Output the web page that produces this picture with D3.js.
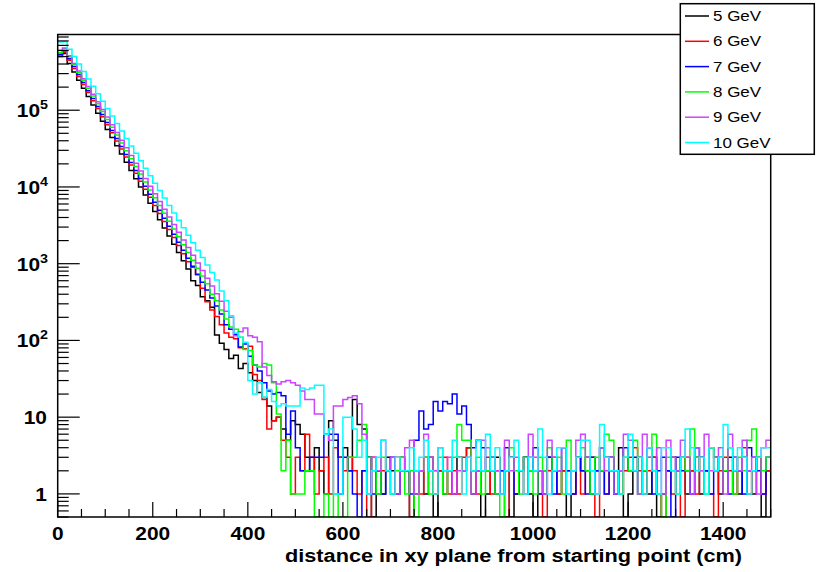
<!DOCTYPE html>
<html><head><meta charset="utf-8">
<script src="https://cdn.jsdelivr.net/npm/d3@7"></script>
<style>
body{margin:0;background:#fff}
svg{display:block}
text{font-family:"Liberation Sans",Arial,Helvetica,sans-serif}
</style>
</head><body>
<svg id="c" width="817" height="572"></svg>
<script>
// ---- data: counts per 10 cm bin, 0 .. 1500 cm ----
const binWidth = 10;
const seriesNames = ["5 GeV","6 GeV","7 GeV","8 GeV","9 GeV","10 GeV"];
const xTickValues = [0,200,400,600,800,1000,1200,1400];
const yDecades = [1,10,100,1000,10000,100000];
const xTitle = "distance in xy plane from starting point (cm)";

const gev5 = [
501000,550000,407000,316000,245000,193000,151000,117000,91000,72000,
56000,44000,34400,26800,21000,16400,12800,10000,7830,6120,
4790,3740,2920,2290,1790,1400,1090,853,600,520,
370,330,270,118,92,76,58,64,43,50,
38,30,21,18,14,9,10,7,5,9,
8,6,3,2,4,2,1,9,5,3,
4,2,17,8,7,3,0,2,1,3,
2,1,3,2,0,1,2,1,3,0,
2,1,2,1,3,2,4,1,2,0,
1,2,3,1,2,0,1,2,3,1,
0,2,1,3,2,1,2,0,1,3,
2,3,1,2,4,3,2,1,4,0,
1,2,3,2,1,3,0,1,2,3,
2,3,1,2,3,1,2,4,3,1,
2,3,2,1,3,2,1,3,0,2];

const gev6 = [
525000,569000,447000,351000,275000,216000,170000,133000,105000,82200,
64600,50700,39800,31300,24500,19300,15100,11900,9330,7330,
5750,4520,3550,2790,2190,1720,1350,1060,900,720,
480,320,250,205,160,125,110,105,80,78,
84,36,30,17,7,9,10,5,3,1,
3,2,6,3,1,2,3,1,4,3,
2,3,2,1,2,0,3,1,2,2,
1,3,2,2,0,2,1,3,2,1,
2,3,1,2,1,3,4,2,1,2,
3,1,2,2,0,3,1,2,1,3,
2,1,0,2,3,1,2,2,1,3,
1,2,3,0,2,1,3,2,1,2,
3,4,2,1,2,3,1,0,2,1,
2,0,3,2,1,3,2,1,0,2,
3,2,1,2,4,1,2,3,1,2];

const gev7 = [
537000,597000,470000,370000,291000,229000,180000,142000,112000,87900,
69200,54500,42900,33700,26500,20900,16400,12900,10200,8020,
6310,4970,3910,3080,2420,1910,1500,1180,929,731,
575,453,356,281,221,160,140,120,82,90,
62,48,40,28,22,20,21,19,6,12,
4,2,2,3,3,3,6,6,6,1,
3,2,1,0,2,3,1,2,1,2,
3,1,2,2,1,5,12,7,8,16,
12,16,15,20,11,14,8,4,5,4,
2,3,1,2,4,3,1,2,3,2,
4,1,2,3,1,2,4,2,1,3,
2,1,3,2,2,1,3,1,2,4,
2,3,1,2,4,1,2,3,2,0,
3,2,2,1,4,3,2,1,2,3,
2,1,3,2,1,4,3,2,1,3];

const gev8 = [
562000,628000,497000,393000,310000,245000,194000,153000,121000,95900,
75900,60000,47400,37500,29600,23400,18500,14700,11600,9160,
7240,5730,4530,3580,2830,2240,1770,1400,1110,875,
692,547,400,330,250,190,150,140,110,76,
74,48,45,50,48,28,11,2,5,1,
1,1,2,2,0,0,1,0,1,0,
0,3,3,5,8,3,2,1,3,2,
1,2,3,1,2,0,2,3,1,2,
3,1,2,3,8,5,5,2,3,1,
2,3,1,0,2,4,2,1,3,2,
1,3,2,4,2,3,1,5,2,3,
4,2,1,3,2,6,5,2,1,3,
2,5,1,2,3,6,1,0,3,2,
1,3,2,7,3,2,1,4,2,3,
2,4,1,3,2,5,7,3,2,3];

const gev9 = [
603000,646000,513000,407000,324000,257000,204000,162000,129000,102000,
81300,64600,51300,40700,32400,25700,20400,16200,12900,10200,
8130,6460,5130,4070,3240,2570,2040,1620,1290,1020,
813,646,513,407,324,240,200,115,130,145,
115,110,96,45,35,29,27,29,30,28,
26,22,17,17,11,11,6,5,14,14,
17,18,19,15,6,1,3,2,5,2,
3,1,2,4,5,1,2,6,3,2,
4,2,3,1,2,2,3,1,2,5,
4,3,2,1,5,2,3,2,1,6,
3,2,1,5,3,2,4,1,2,5,
6,3,2,1,4,2,3,1,2,6,
5,2,1,6,3,2,4,1,5,3,
2,5,3,1,4,2,6,2,3,4,
1,6,3,2,5,2,3,1,4,5];

const gev10 = [
776000,782000,625000,500000,400000,320000,256000,205000,164000,131000,
105000,83800,67000,53600,42900,34300,27400,21900,17500,14000,
11200,8970,7180,5740,4590,3670,2940,2350,1880,1500,
1200,962,769,615,440,330,210,125,110,95,
30,20,28,18,23,16,14,15,14,14,
14,24,23,24,26,26,6,7,1,1,
10,10,7,3,5,1,2,3,5,2,
1,3,2,2,4,2,3,5,2,1,
4,2,2,5,3,1,3,2,5,2,
6,2,4,1,2,3,5,2,1,3,
2,7,3,1,2,4,4,1,2,3,
5,5,2,1,8,3,2,2,1,3,
6,2,3,1,4,2,1,4,4,2,
1,3,7,4,2,3,1,4,2,3,
8,4,2,4,3,1,2,3,4,4];

const seriesData = [gev5, gev6, gev7, gev8, gev9, gev10];

// ---- styles / layout ----
const colors = ["#000000","#ff0000","#0000ff","#00ff00","#cc44ff","#00ffff"];
const frame = {left:57.7, right:770.7, top:34.5, bottom:517};
const yMin = 0.5, yMax = 9.7e5, xMax = 1500;

const svg = d3.select("#c");
svg.append("rect").attr("width",817).attr("height",572).attr("fill","#fff");

const x = d3.scaleLinear().domain([0, xMax]).range([frame.left, frame.right]);
const y = d3.scaleLog().domain([yMin, yMax]).range([frame.bottom, frame.top]);

svg.append("defs").append("clipPath").attr("id","clip")
  .append("rect").attr("x",frame.left).attr("y",frame.top-1)
  .attr("width",frame.right-frame.left).attr("height",frame.bottom-frame.top+1);

// helper: horizontally stretched text (ROOT fonts render wide)
function stext(parent, tx, ty, sx, anchor, size, weight) {
  const g = parent.append("g").attr("transform",`translate(${tx},${ty}) scale(${sx},1)`);
  return g.append("text").attr("x",0).attr("y",0)
    .attr("text-anchor",anchor).attr("font-size",size).attr("font-weight",weight);
}

// histograms
const line = d3.line()
  .x(d => x(d[0]))
  .y(d => y(Math.max(d[1], yMin)))
  .curve(d3.curveStepAfter);

const gH = svg.append("g").attr("clip-path","url(#clip)");
seriesData.forEach((arr, si) => {
  const pts = arr.map((v,i) => [i*binWidth, v]);
  pts.push([arr.length*binWidth, arr[arr.length-1]]);
  gH.append("path").attr("d", line(pts))
    .attr("fill","none").attr("stroke",colors[si]).attr("stroke-width",1.5)
    .attr("stroke-linejoin","miter");
});

// frame
svg.append("rect").attr("x",frame.left).attr("y",frame.top)
  .attr("width",frame.right-frame.left).attr("height",frame.bottom-frame.top)
  .attr("fill","none").attr("stroke","#000").attr("stroke-width",1.5);

// x axis ticks (inside, upward)
const gx = svg.append("g");
for (let v = 0; v <= xMax; v += 50) {
  const major = (v % 200 === 0);
  gx.append("line").attr("x1",x(v)).attr("x2",x(v))
    .attr("y1",frame.bottom).attr("y2",frame.bottom-(major?15:8))
    .attr("stroke","#000").attr("stroke-width",1.2);
}
xTickValues.forEach(v => {
  stext(gx, x(v), 540, 1.1, "middle", 19, "bold").text(v);
});
gx.append("text").attr("x",285).attr("y",561.7)
  .attr("font-size",17.5).attr("font-weight","bold")
  .attr("textLength",457).attr("lengthAdjust","spacingAndGlyphs")
  .text(xTitle);

// y axis ticks (inside, rightward)
const gy = svg.append("g");
const minorVals = [];
for (let e = -1; e <= 5; e++) {
  for (let m = 1; m <= 9; m++) {
    const v = m*Math.pow(10,e);
    if (v >= yMin && v <= yMax) minorVals.push({v, major: m===1});
  }
}
minorVals.forEach(t => {
  gy.append("line").attr("x1",frame.left).attr("x2",frame.left+(t.major?22:11))
    .attr("y1",y(t.v)).attr("y2",y(t.v))
    .attr("stroke","#000").attr("stroke-width",1.2);
});
yDecades.forEach(v => {
  const e = Math.round(Math.log10(v));
  const t = stext(gy, e>=2?48:47, y(v)+7, 1.1, "end", 19, "bold");
  if (e < 2) { t.text(String(v)); }
  else {
    t.append("tspan").text("10");
    t.append("tspan").attr("dy",-8).attr("font-size",13).text(String(e));
  }
});

// legend
const lg = svg.append("g");
lg.append("rect").attr("x",680.3).attr("y",3.7).attr("width",134).attr("height",150.6)
  .attr("fill","#fff").attr("stroke","#000").attr("stroke-width",1.5);
seriesNames.forEach((n,i) => {
  const cy = 16 + i*25.3;
  lg.append("line").attr("x1",685).attr("x2",709).attr("y1",cy).attr("y2",cy)
    .attr("stroke",colors[i]).attr("stroke-width",1.5);
  stext(lg, 713, cy+5, 1.17, "start", 14.5, "normal").text(n);
});
</script>
</body></html>
